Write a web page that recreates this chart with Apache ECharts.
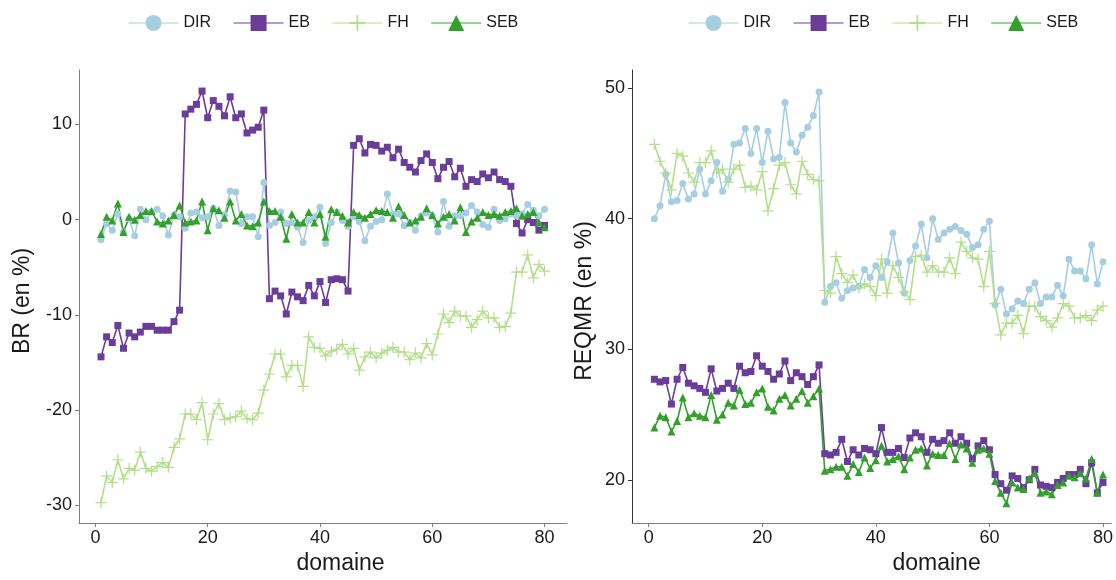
<!DOCTYPE html>
<html>
<head>
<meta charset="utf-8">
<script src="https://cdn.jsdelivr.net/npm/echarts@6/dist/echarts.min.js"></script>
<style>
  html, body { margin: 0; background: #fff; }
  #chart { width: 1116px; height: 580px; }
</style>
</head>
<body>
<div id="chart"></div>
<script>
// values, domaine 1..80
const seriesNames = ['DIR', 'EB', 'FH', 'SEB'];

const brDIR = [-2.1, -0.4, -1.1, 0.6, -1.3, 0.1, -1.7, 1.1, 0.0, 0.8,
  1.1, 0.4, -1.6, 0.5, 0.3, -0.9, 0.7, 0.8, 0.2, 0.3,
  1.2, -0.6, 0.5, 3.0, 2.9, -0.4, 0.3, 0.3, -1.8, 3.9,
  -0.6, -0.3, 0.8, -0.4, -0.3, -0.8, -2.4, -0.1, 0.3, 1.3,
  -2.5, -0.3, 0.8, -0.1, -0.7, 0.3, -0.2, -2.2, -0.7, -0.2,
  0.0, 2.7, 0.6, 0.6, -0.6, -0.3, -1.1, 0.4, 0.7, 0.4,
  -1.3, 1.9, -0.7, 0.4, 0.4, 0.7, 1.5, 0.8, -0.5, -0.8,
  1.1, -0.1, 0.1, 0.6, 0.4, 0.6, 1.6, 1.0, 0.4, 1.1];
const brEB = [-14.4, -12.3, -12.9, -11.1, -13.5, -11.9, -12.3, -11.8, -11.2, -11.2,
  -11.6, -11.6, -11.6, -10.7, -9.5, 11.1, 11.6, 12.1, 13.5, 10.7,
  12.5, 11.9, 10.9, 12.9, 10.7, 11.1, 9.1, 9.4, 9.7, 11.5,
  -8.3, -7.5, -8.0, -9.9, -7.6, -8.1, -8.5, -6.9, -8.0, -6.5,
  -8.7, -6.3, -6.2, -6.3, -7.5, 7.8, 8.5, 7.0, 7.9, 7.8,
  7.2, 7.6, 6.5, 7.4, 6.0, 5.5, 5.0, 6.2, 6.9, 6.0,
  4.3, 5.5, 6.1, 4.5, 5.4, 3.5, 4.2, 4.0, 4.8, 4.4,
  5.0, 4.2, 4.0, 3.5, -0.4, -1.4, 0.0, -0.3, -1.1, -0.6];
const brFH = [-29.7, -26.9, -27.6, -25.2, -27.2, -26.1, -26.3, -24.4, -26.1, -26.4,
  -25.9, -25.5, -26.0, -23.9, -23.0, -20.4, -20.4, -21.0, -19.2, -23.1,
  -20.4, -19.3, -21.0, -20.8, -20.7, -20.1, -20.9, -21.0, -20.3, -17.9,
  -16.2, -14.1, -14.1, -16.5, -15.3, -15.3, -17.5, -12.3, -13.4, -13.5,
  -14.3, -13.8, -13.6, -13.1, -14.1, -13.5, -15.8, -14.4, -13.9, -14.5,
  -14.0, -13.7, -13.4, -13.9, -13.9, -14.7, -14.0, -14.5, -13.0, -14.2,
  -12.0, -9.9, -10.8, -9.6, -10.1, -10.1, -11.3, -10.5, -9.6, -10.3,
  -10.3, -11.3, -11.2, -9.8, -5.5, -5.5, -3.7, -6.1, -4.7, -5.4];
const brSEB = [-1.5, 0.3, -0.1, 1.7, -1.3, 0.3, 0.0, 0.5, 0.9, 0.9,
  -0.2, -0.4, -0.1, 0.5, 1.5, -0.3, -0.2, -0.1, 1.9, -1.1,
  1.2, 1.0, 0.2, 1.9, -0.1, 0.6, -0.6, -0.7, -0.3, 1.9,
  0.9, 0.9, 0.3, -2.0, 0.6, -0.3, -0.3, 0.8, -0.3, 0.6,
  -1.8, 1.1, 0.8, 0.4, -0.3, 0.8, 0.5, 0.2, 0.6, 1.0,
  0.9, 0.8, 0.2, 1.4, 0.5, -0.3, -0.1, 0.3, 1.2, 0.5,
  -0.4, 0.3, 0.6, -0.1, 1.3, -1.3, -0.2, 0.2, 0.8, 0.5,
  0.6, 0.4, 0.8, 0.9, 1.2, 0.4, 0.6, 0.8, -0.3, -0.8];

const reqmrDIR = [40.0, 41.0, 43.4, 41.3, 41.4, 42.7, 41.5, 41.9, 43.8, 41.9,
  42.9, 44.3, 42.1, 43.0, 45.7, 45.8, 46.9, 45.0, 46.9, 44.3,
  46.7, 44.6, 44.7, 48.9, 45.8, 45.1, 46.4, 47.0, 47.9, 49.7,
  33.6, 34.8, 35.1, 33.9, 34.5, 34.7, 34.8, 36.1, 35.5, 36.4,
  35.5, 36.7, 38.9, 36.6, 34.3, 36.8, 37.9, 39.6, 37.0, 40.0,
  38.4, 38.9, 39.2, 39.4, 39.1, 38.8, 37.8, 38.0, 39.2, 39.8,
  33.4, 34.6, 32.7, 33.1, 33.7, 33.5, 34.6, 35.1, 33.5, 34.0,
  34.0, 34.9, 34.1, 36.9, 36.0, 36.0, 35.4, 38.0, 35.0, 36.7];
const reqmrEB = [27.7, 27.5, 27.6, 25.8, 27.7, 28.6, 27.4, 27.2, 27.0, 26.7,
  28.5, 26.8, 27.0, 27.4, 27.0, 28.7, 28.2, 28.3, 29.5, 28.7,
  28.3, 27.7, 28.1, 29.1, 27.6, 28.2, 27.9, 27.3, 27.9, 28.8,
  22.0, 21.9, 22.1, 23.1, 21.4, 22.3, 21.9, 22.4, 22.3, 22.0,
  24.0, 22.1, 22.1, 22.4, 21.7, 23.2, 23.6, 23.3, 22.1, 23.1,
  22.8, 23.0, 23.6, 22.8, 23.3, 22.8, 21.6, 22.6, 23.0, 22.3,
  20.4, 19.7, 19.2, 20.3, 20.1, 19.4, 20.0, 20.8, 19.6, 19.5,
  19.4, 19.8, 20.1, 20.4, 20.4, 20.8, 19.7, 21.3, 19.0, 19.8];
const reqmrFH = [45.7, 44.4, 43.5, 42.2, 45.0, 44.8, 43.5, 42.8, 44.3, 44.3,
  45.2, 43.5, 43.8, 42.8, 43.8, 44.1, 42.4, 42.5, 42.2, 43.6,
  40.6, 42.3, 44.1, 44.3, 42.6, 41.9, 44.4, 43.4, 43.0, 42.9,
  34.5, 34.3, 37.1, 35.8, 35.1, 35.7, 34.7, 35.0, 34.8, 34.1,
  36.9, 34.3, 36.4, 35.5, 34.4, 33.8, 37.1, 37.2, 35.9, 36.4,
  35.9, 35.9, 37.0, 35.8, 38.2, 37.5, 37.0, 36.9, 34.8, 37.5,
  33.5, 31.1, 32.0, 32.0, 32.6, 31.2, 33.3, 33.3, 32.5, 32.2,
  31.7, 32.4, 33.5, 33.3, 32.4, 32.4, 32.6, 32.2, 33.0, 33.3];
const reqmrSEB = [24.0, 24.9, 24.8, 23.7, 24.5, 26.3, 24.8, 25.1, 24.9, 24.8,
  26.5, 24.6, 25.0, 25.9, 25.7, 26.9, 25.8, 25.9, 26.7, 27.0,
  25.6, 25.3, 26.2, 26.5, 25.7, 26.2, 26.8, 25.9, 26.4, 27.0,
  20.7, 20.8, 21.0, 21.0, 20.3, 21.2, 20.6, 21.7, 20.9, 21.5,
  22.6, 21.4, 21.6, 21.8, 20.8, 21.7, 22.3, 22.4, 21.1, 22.0,
  21.9, 21.9, 22.8, 21.6, 22.7, 22.4, 21.3, 22.3, 22.4, 22.0,
  19.9, 19.0, 18.2, 19.8, 19.4, 19.3, 20.1, 20.5, 19.0, 19.1,
  18.9, 19.6, 19.8, 20.3, 20.2, 20.5, 20.1, 21.6, 19.0, 20.4];

const xTicks = [0, 20, 40, 60, 80];
const brTicks = [-30, -20, -10, 0, 10];
const reqmrTicks = [20, 30, 40, 50];

const FONT = '"Liberation Sans", Arial, sans-serif';
const TEXT = '#1a1a1a';
const PLUS = 'path://M4.45,0H5.55V4.45H10V5.55H5.55V10H4.45V5.55H0V4.45H4.45Z';

const styles = {
  DIR: { color: '#a6cee3', symbol: 'circle', size: 7 },
  EB: { color: '#6a3d9a', symbol: 'rect', size: 7 },
  FH: { color: '#b2df8a', symbol: PLUS, size: 11 },
  SEB: { color: '#33a02c', symbol: 'triangle', size: 8 },
};

function toPoints(values) {
  return values.map((v, i) => [i + 1, v]);
}

function makeSeries(name, values, gridIndex) {
  const s = styles[name];
  return {
    name,
    type: 'line',
    xAxisIndex: gridIndex,
    yAxisIndex: gridIndex,
    data: toPoints(values),
    symbol: s.symbol,
    symbolSize: s.size,
    showAllSymbol: true,
    itemStyle: { color: s.color },
    lineStyle: { color: s.color, width: 1.6 },
    emphasis: { disabled: true },
  };
}

function axis(ticks, lineColor) {
  return {
    type: 'value',
    axisLine: { show: true, onZero: false, lineStyle: { color: lineColor, width: 1 } },
    axisTick: { show: true, length: 4, customValues: ticks, lineStyle: { color: lineColor } },
    axisLabel: { customValues: ticks, color: TEXT, fontSize: 18, fontFamily: FONT },
    splitLine: { show: false },
  };
}

function xAxis(gridIndex, min, max, shift) {
  return {
    ...axis(xTicks, '#7f7f7f'),
    gridIndex,
    min,
    max,
    name: 'domaine',
    nameLocation: 'middle',
    nameGap: 29,
    nameTextStyle: { color: TEXT, fontSize: 23, fontFamily: FONT, padding: [0, 0, 0, shift] },
    axisLabel: { customValues: xTicks, color: TEXT, fontSize: 18, fontFamily: FONT, margin: 6 },
  };
}

function yAxis(gridIndex, min, max, ticks, name, gap, lineColor) {
  return {
    ...axis(ticks, lineColor),
    gridIndex,
    min,
    max,
    name,
    nameLocation: 'middle',
    nameGap: gap,
    nameTextStyle: { color: TEXT, fontSize: 23, fontFamily: FONT, padding: [0, 9, 0, 0] },
    axisLabel: { customValues: ticks, color: TEXT, fontSize: 18, fontFamily: FONT, margin: 7 },
  };
}

function legendAt(left) {
  return {
    left,
    top: 10,
    data: seriesNames,
    itemWidth: 50,
    itemHeight: 20,
    itemGap: 22,
    selectedMode: false,
    lineStyle: { width: 1 },
    textStyle: { color: TEXT, fontSize: 16, fontFamily: FONT },
  };
}

const chart = echarts.init(document.getElementById('chart'));

chart.setOption({
  animation: false,
  backgroundColor: '#fff',
  legend: [legendAt(123), legendAt(683)],
  grid: [
    { left: 79, top: 70, width: 488, height: 457 },
    { left: 632, top: 70, width: 484, height: 457 },
  ],
  xAxis: [
    xAxis(0, -2.92, 84.0, 35),
    xAxis(1, -2.94, 81.43, 130),
  ],
  yAxis: [
    yAxis(0, -31.84, 15.71, brTicks, 'BR (en %)', 45, '#7f7f7f'),
    yAxis(1, 16.69, 51.39, reqmrTicks, 'REQMR (en %)', 36, '#333'),
  ],
  series: [
    makeSeries('DIR', brDIR, 0),
    makeSeries('EB', brEB, 0),
    makeSeries('FH', brFH, 0),
    makeSeries('SEB', brSEB, 0),
    makeSeries('DIR', reqmrDIR, 1),
    makeSeries('EB', reqmrEB, 1),
    makeSeries('FH', reqmrFH, 1),
    makeSeries('SEB', reqmrSEB, 1),
  ],
});
</script>
</body>
</html>
